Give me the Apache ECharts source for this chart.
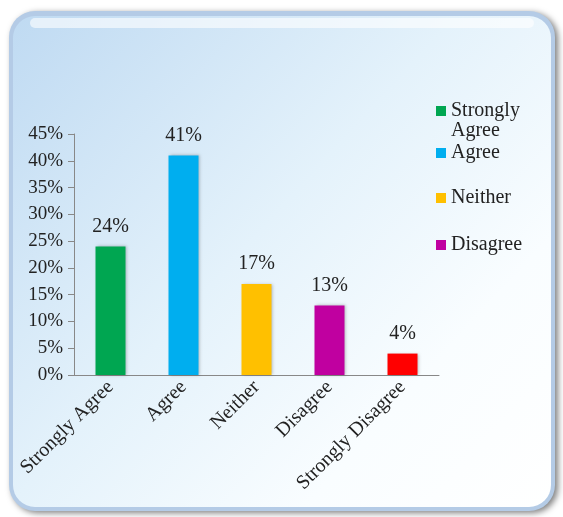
<!DOCTYPE html>
<html>
<head>
<meta charset="utf-8">
<script src="https://cdn.jsdelivr.net/npm/echarts@6/dist/echarts.min.js"></script>
<style>
  html, body { margin: 0; padding: 0; background: #fff; }
  #chart { width: 563px; height: 517px; }
</style>
</head>
<body>
<div id="chart"></div>
<script>
const categories = ['Strongly Agree', 'Agree', 'Neither', 'Disagree', 'Strongly Disagree']
const values = [24, 41, 17, 13, 4]
const colors = ['#00a651', '#00aeef', '#ffc000', '#c000a0', '#ff0000']
const legendNames = ['Strongly Agree', 'Agree', 'Neither', 'Disagree']
const legendTops = [81, 143, 188, 235]

const serif = '"Liberation Serif", "DejaVu Serif", serif'

const chart = echarts.init(document.getElementById('chart'))

// one series per category so the legend can show them
const series = categories.map((name, i) => ({
  name,
  type: 'bar',
  stack: 'all',
  barWidth: 30,
  itemStyle: { color: colors[i], shadowColor: 'rgba(0,0,0,0.25)', shadowBlur: 3, shadowOffsetX: 1 },
  label: {
    show: true,
    position: 'top',
    distance: 10,
    formatter: '{c}%',
    fontFamily: serif,
    fontSize: 20,
    color: '#222'
  },
  data: values.map((v, j) => (j === i ? v : '-'))
}))

// first item wraps; a blank line on top keeps the marker on "Strongly"
const legends = legendNames.map((name, i) => ({
  data: [name],
  left: 436,
  top: legendTops[i],
  padding: 0,
  icon: 'rect',
  itemWidth: 10,
  itemHeight: 10,
  itemGap: 5,
  selectedMode: false,
  formatter: n => (n === 'Strongly Agree' ? ' \nStrongly\nAgree' : n),
  textStyle: {
    fontFamily: serif,
    fontSize: 20,
    color: '#222',
    lineHeight: 20
  }
}))

chart.setOption({
  animation: false,
  graphic: [
    {
      type: 'rect',
      z: -10,
      shape: { x: 9, y: 11, width: 546, height: 500, r: 26 },
      style: {
        fill: '#b4cbe6',
        shadowColor: 'rgba(0,0,0,0.5)',
        shadowBlur: 6,
        shadowOffsetX: 3,
        shadowOffsetY: 2
      }
    },
    {
      type: 'rect',
      z: -9,
      shape: { x: 13, y: 16, width: 538, height: 491, r: 22 },
      style: {
        fill: new echarts.graphic.LinearGradient(0, 0, 1, 1, [
          { offset: 0, color: '#bfdaf2' },
          { offset: 0.45, color: '#e4f2fb' },
          { offset: 0.75, color: '#f9fdff' },
          { offset: 1, color: '#ffffff' }
        ])
      }
    },
    {
      type: 'rect',
      z: -8,
      shape: { x: 30, y: 18, width: 504, height: 10, r: 5 },
      style: { fill: 'rgba(255,255,255,0.6)' }
    }
  ],
  legend: legends,
  grid: { left: 74, right: 124, top: 134, bottom: 142 },
  xAxis: {
    type: 'category',
    data: categories,
    axisLine: { lineStyle: { color: '#888' } },
    axisTick: { show: false },
    axisLabel: {
      interval: 0,
      rotate: 45,
      margin: 9,
      fontFamily: serif,
      fontSize: 20,
      color: '#222'
    }
  },
  yAxis: {
    type: 'value',
    min: 0,
    max: 45,
    interval: 5,
    splitLine: { show: false },
    axisLine: { show: true, lineStyle: { color: '#888' } },
    axisTick: { show: true, length: 6, lineStyle: { color: '#888' } },
    axisLabel: {
      formatter: '{value}%',
      margin: 11,
      fontFamily: serif,
      fontSize: 19,
      color: '#222'
    }
  },
  series
})
</script>
</body>
</html>
